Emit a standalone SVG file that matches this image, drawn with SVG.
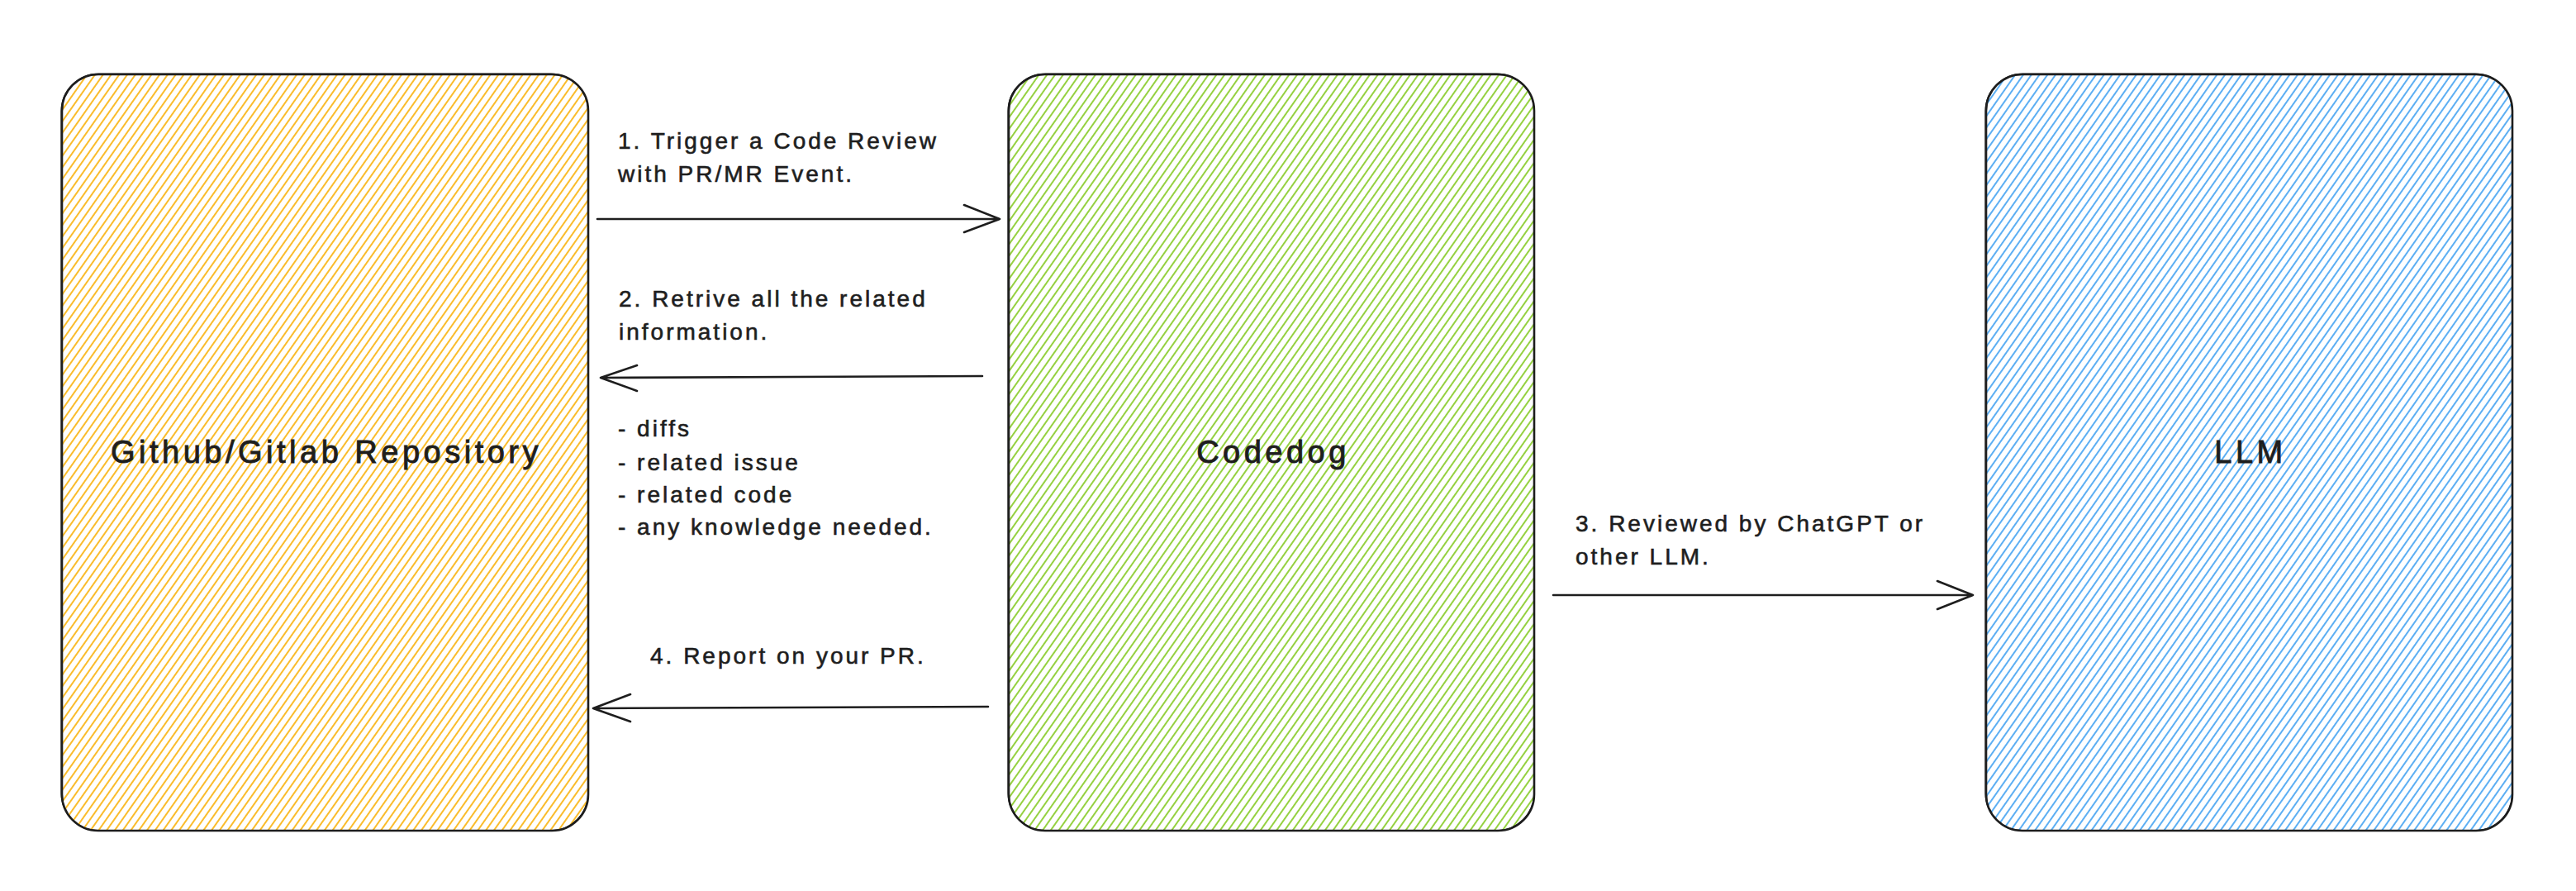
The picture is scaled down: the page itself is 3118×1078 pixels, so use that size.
<svg xmlns="http://www.w3.org/2000/svg" width="3118" height="1078" viewBox="0 0 3118 1078">
  <defs>
    <pattern id="hYellow" patternUnits="userSpaceOnUse" width="8" height="40" patternTransform="rotate(35)">
      <line x1="2" y1="0" x2="2" y2="40" stroke="#fab005" stroke-width="1.7"/>
    </pattern>
    <pattern id="hGreen" patternUnits="userSpaceOnUse" width="8" height="40" patternTransform="rotate(35)">
      <line x1="2" y1="0" x2="2" y2="40" stroke="#82c91e" stroke-width="1.7"/>
    </pattern>
    <pattern id="hBlue" patternUnits="userSpaceOnUse" width="8" height="40" patternTransform="rotate(35)">
      <line x1="2" y1="0" x2="2" y2="40" stroke="#339af0" stroke-width="1.6"/>
    </pattern>
  </defs>
  <style>
    .box { stroke: #1e1e1e; stroke-width: 2.6; }
    .box2 { fill: none; stroke: #1e1e1e; stroke-width: 1.2; }
    .label { font-family: "Liberation Sans", Arial, sans-serif; font-size: 38px; letter-spacing: 4.5px; fill: #1e1e1e; stroke: #1e1e1e; stroke-width: 0.9px; text-anchor: middle; }
    .note { font-family: "Liberation Sans", Arial, sans-serif; font-size: 28px; letter-spacing: 3px; fill: #1e1e1e; stroke: #1e1e1e; stroke-width: 0.6px; }
    .conn { fill: none; stroke: #1e1e1e; stroke-width: 2.6; stroke-linecap: round; stroke-linejoin: round; }
  </style>
  <rect width="3118" height="1078" fill="#ffffff"/>

  <g id="node-repo">
    <rect class="box" x="75" y="90" width="637" height="915" rx="44" ry="44" fill="url(#hYellow)"/>
    <rect class="box2" x="74" y="89" width="638" height="916" rx="46" ry="46"/>
    <text class="label" x="395" y="560">Github/Gitlab Repository</text>
  </g>

  <g id="node-codedog">
    <rect class="box" x="1221" y="90" width="636" height="915" rx="44" ry="44" fill="url(#hGreen)"/>
    <rect class="box2" x="1220" y="89" width="637" height="916" rx="46" ry="46"/>
    <text class="label" x="1541" y="560">Codedog</text>
  </g>

  <g id="node-llm">
    <rect class="box" x="2404" y="90" width="637" height="915" rx="44" ry="44" fill="url(#hBlue)"/>
    <rect class="box2" x="2403" y="89" width="638" height="916" rx="46" ry="46"/>
    <text class="label" x="2724" y="560">LLM</text>
  </g>

  <g id="connectors">
    <g id="edge-1">
      <path class="conn" d="M723 265 L1210 265 M1167 248 L1210 265 L1167 281"/>
      <text class="note" x="748" y="180">1. Trigger a Code Review</text>
      <text class="note" x="748" y="220">with PR/MR Event.</text>
    </g>
    <g id="edge-2">
      <path class="conn" d="M1189 455 L727 457 M771 442 L727 457 L771 473"/>
      <text class="note" x="749" y="371">2. Retrive all the related</text>
      <text class="note" x="749" y="411">information.</text>
      <text class="note" x="748" y="528">- diffs</text>
      <text class="note" x="748" y="569">- related issue</text>
      <text class="note" x="748" y="608">- related code</text>
      <text class="note" x="748" y="647">- any knowledge needed.</text>
    </g>
    <g id="edge-3">
      <path class="conn" d="M1880 720 L2388 720 M2345 703 L2388 720 L2345 737"/>
      <text class="note" x="1907" y="643">3. Reviewed by ChatGPT or</text>
      <text class="note" x="1907" y="683">other LLM.</text>
    </g>
    <g id="edge-4">
      <path class="conn" d="M1196 855 L718 857 M763 840 L718 857 L763 873"/>
      <text class="note" x="787" y="803">4. Report on your PR.</text>
    </g>
  </g>
</svg>
